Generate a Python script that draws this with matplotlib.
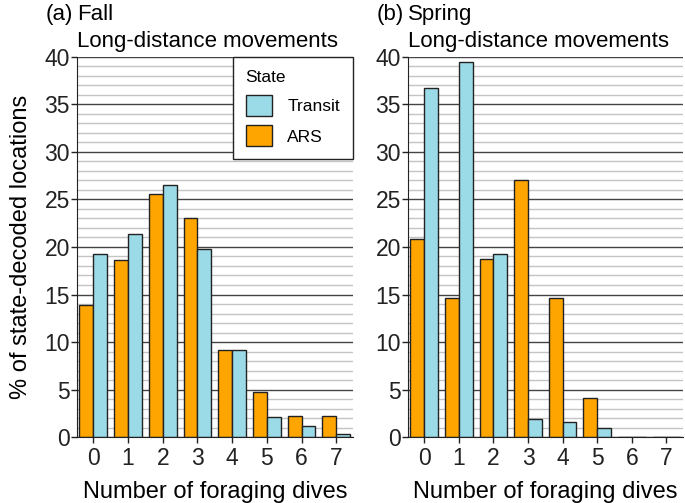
import numpy as np
import matplotlib
matplotlib.use("Agg")
import matplotlib.pyplot as plt
from matplotlib.patches import Patch
from matplotlib.ticker import MultipleLocator

plt.rcParams['font.family'] = ['Liberation Sans', 'DejaVu Sans']

# number of foraging dives
dives = [0, 1, 2, 3, 4, 5, 6, 7]

# % of state-decoded locations
fall_ars = [13.9, 18.6, 25.6, 23.1, 9.2, 4.7, 2.2, 2.2]
fall_transit = [19.3, 21.4, 26.5, 19.8, 9.2, 2.1, 1.2, 0.35]
spring_ars = [20.8, 14.6, 18.7, 27.0, 14.6, 4.15, 0, 0]
spring_transit = [36.7, 39.5, 19.3, 1.85, 1.55, 0.9, 0, 0]

ars_col = '#FFA500'
transit_col = '#9BDBE7'
edge = '#222222'

fig = plt.figure(figsize=(6.85, 5.03), dpi=100)
ax1 = fig.add_axes([0.1120, 0.1312, 0.4033, 0.7555])
ax2 = fig.add_axes([0.5952, 0.1312, 0.4018, 0.7555])


def draw_panel(ax, ars, transit, tag, season):
    x = np.array(dives)
    # grid first so bars sit on top
    ax.set_axisbelow(True)
    ax.bar(x - 0.2, ars, width=0.4, color=ars_col, edgecolor=edge, linewidth=1)
    ax.bar(x + 0.2, transit, width=0.4, color=transit_col, edgecolor=edge, linewidth=1)
    ax.set_xlim(-0.48, 7.48)
    ax.set_ylim(0, 40)
    ax.set_xticks(dives)
    ax.yaxis.set_major_locator(MultipleLocator(5))
    ax.yaxis.set_minor_locator(MultipleLocator(1))
    ax.grid(axis='y', which='major', color='#444444', linewidth=1)
    ax.grid(axis='y', which='minor', color='#c4c4c4', linewidth=1)
    ax.tick_params(axis='y', which='minor', length=0)
    ax.tick_params(which='major', labelsize=16.5, length=4, width=1, colors='#222222', pad=1)
    ax.tick_params(axis='x', pad=3)
    for s in ['top', 'right']:
        ax.spines[s].set_visible(False)
    for s in ['left', 'bottom']:
        ax.spines[s].set_color('#222222')
    ax.set_xlabel('Number of foraging dives', fontsize=17, labelpad=8)
    # two-line heading: "(a) Fall" above "Long-distance movements"
    ax.text(0.0, 1.012, 'Long-distance movements', transform=ax.transAxes,
            ha='left', va='bottom', fontsize=16)
    ax.annotate(season, xy=(0.0, 1.012), xycoords='axes fraction',
                xytext=(0, 19.5), textcoords='offset points',
                ha='left', va='bottom', fontsize=16)
    ax.annotate(tag, xy=(0.0, 1.012), xycoords='axes fraction',
                xytext=(-3, 19.5), textcoords='offset points',
                ha='right', va='bottom', fontsize=16)


draw_panel(ax1, fall_ars, fall_transit, '(a)', 'Fall')
draw_panel(ax2, spring_ars, spring_transit, '(b)', 'Spring')

ax1.set_ylabel('% of state-decoded locations', fontsize=17, labelpad=9)

handles = [Patch(facecolor=transit_col, edgecolor=edge, label='Transit'),
           Patch(facecolor=ars_col, edgecolor=edge, label='ARS')]
leg = ax1.legend(handles=handles, title='State', loc='upper right', fontsize=12.5,
                 title_fontsize=12.5, borderaxespad=0, fancybox=False, framealpha=1,
                 edgecolor='#222222', handlelength=1.5, handleheight=1.5,
                 labelspacing=0.55, borderpad=0.75, handletextpad=0.9)
leg._legend_box.align = 'left'
leg.get_frame().set_linewidth(1)

fig.savefig('out.png', dpi=100)
